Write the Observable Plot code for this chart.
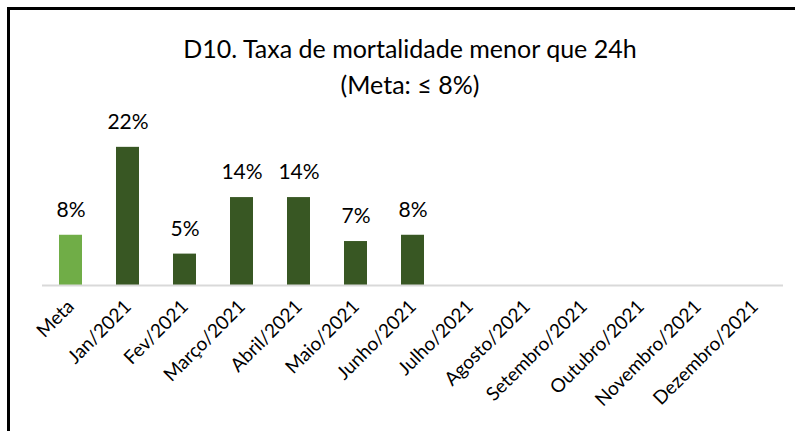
<!DOCTYPE html>
<html>
<head>
<meta charset="utf-8">
<script src="https://cdn.jsdelivr.net/npm/d3@7"></script>
<script src="https://cdn.jsdelivr.net/npm/@observablehq/plot@0.6"></script>
<style>
  html, body { margin: 0; padding: 0; background: #fff; }
  #wrap { position: relative; width: 795px; height: 431px; overflow: hidden; font-family: Lato, "Open Sans", sans-serif; }
  #title { position: relative; height: 100px; }
  #title .t { position: absolute; left: 0; width: 820px; top: 30px; text-align: center; font-size: 25px; line-height: 36px; color: #000; }
  #frame { position: absolute; left: 7px; top: 7px; width: 820px; height: 460px; border-top: 3px solid #000; border-left: 3px solid #000; box-sizing: border-box; pointer-events: none; z-index: 5; }
  #chart svg { display: block; background: transparent; }
</style>
</head>
<body>
<div id="wrap">
  <div id="title"><div class="t">D10. Taxa de mortalidade menor que 24h<br>(Meta: ≤ 8%)</div></div>
  <div id="chart"></div>
  <div id="frame"></div>
</div>
<script>
const categories = ["Meta", "Jan/2021", "Fev/2021", "Março/2021", "Abril/2021", "Maio/2021", "Junho/2021",
  "Julho/2021", "Agosto/2021", "Setembro/2021", "Outubro/2021", "Novembro/2021", "Dezembro/2021"];
const values = [8, 22, 5, 14, 14, 7, 8, null, null, null, null, null, null];
const kinds = ["meta", "real", "real", "real", "real", "real", "real", "real", "real", "real", "real", "real", "real"];

const data = categories.map((c, i) => ({cat: c, value: values[i], kind: kinds[i]}));
const bars = data.filter(d => d.value != null);

const chart = Plot.plot({
  width: 795,
  height: 331,
  marginLeft: 42,
  marginRight: 12,
  marginTop: 28,
  marginBottom: 146,
  style: {fontFamily: "Lato, 'Open Sans', sans-serif", background: "transparent", overflow: "visible"},
  x: {domain: categories, paddingInner: 0.6, paddingOuter: 0.3, label: null},
  y: {domain: [0, 25], axis: null},
  color: {domain: ["meta", "real"], range: ["#70ad47", "#385723"]},
  marks: [
    Plot.barY(bars, {x: "cat", y: "value", fill: "kind"}),
    Plot.ruleY([0], {stroke: "#d9d9d9", strokeWidth: 2}),
    Plot.text(bars, {x: "cat", y: "value", text: d => d.value + "%", dy: -25, fontSize: 21, fill: "#000"}),
    Plot.axisX({tickSize: 0, tickPadding: 18, tickRotate: -45, fontSize: 19, fill: "#000", label: null})
  ]
});
document.getElementById("chart").appendChild(chart);
</script>
</body>
</html>
